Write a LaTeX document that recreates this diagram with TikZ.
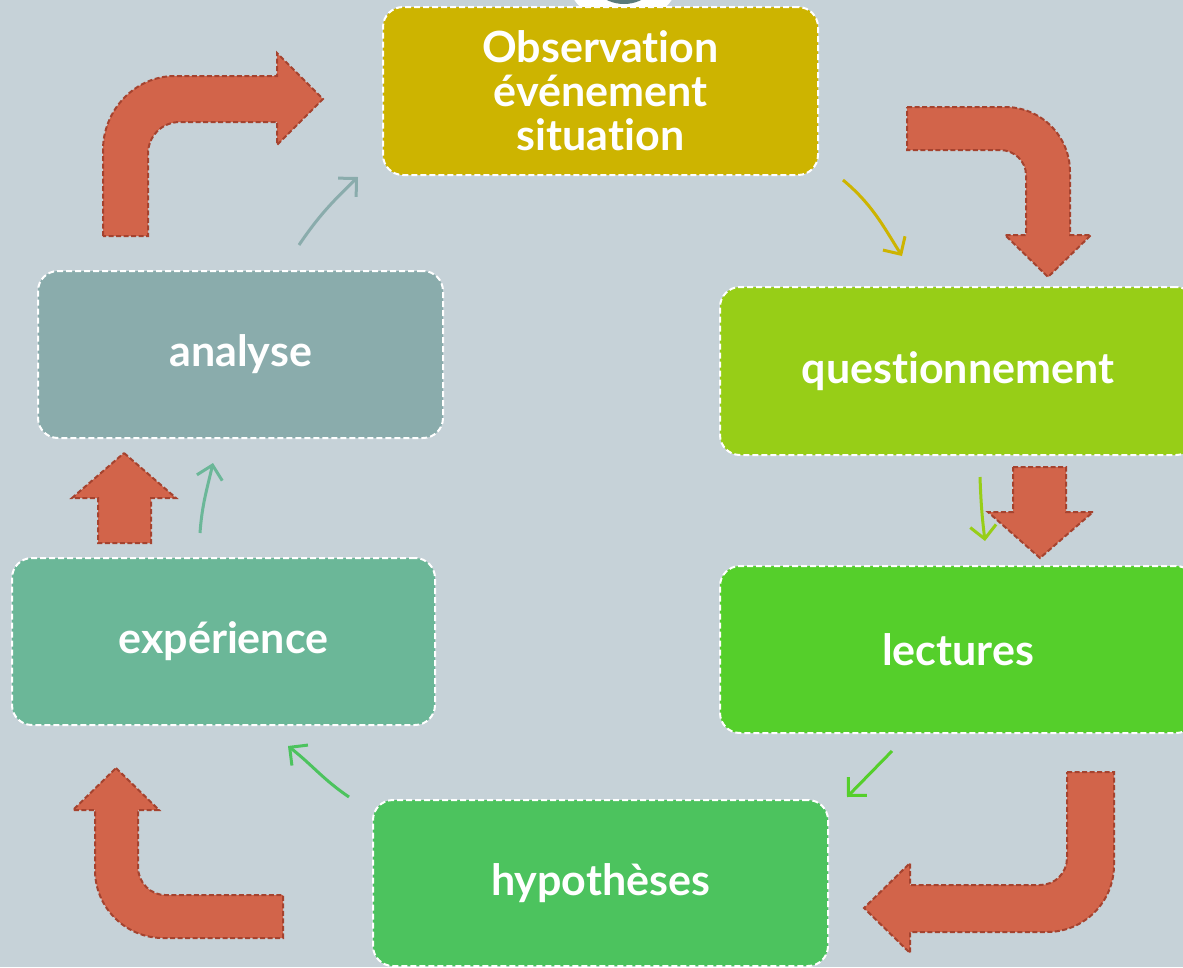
\documentclass[tikz,border=0pt]{standalone}
\usepackage{fontspec}
\setmainfont{Lato}[Ligatures=NoCommon]
\usepackage{tikz}
\usetikzlibrary{arrows.meta}
\definecolor{bg}{HTML}{C6D2D8}
\definecolor{obscol}{HTML}{CDB400}
\definecolor{questcol}{HTML}{97CE17}
\definecolor{lectcol}{HTML}{55CF2B}
\definecolor{hypocol}{HTML}{4CC35E}
\definecolor{expecol}{HTML}{6BB798}
\definecolor{analcol}{HTML}{8AACAC}
\definecolor{bigfill}{HTML}{D2644A}
\definecolor{bigedge}{HTML}{A5432F}
\definecolor{knob}{HTML}{5A7A7A}
\tikzset{
  stagebox/.style={draw=white, line width=2pt, dash pattern=on 6pt off 3pt,
    rounded corners=20pt, inner sep=0pt, text=white, align=center,
    font=\fontsize{43}{44}\selectfont\bfseries},
  bigarrow/.style={fill=bigfill, draw=bigedge, line width=2pt, dash pattern=on 5pt off 2.5pt},
  flow/.style={line width=3pt, -{Straight Barb[length=13pt,width=26pt]}},
}
\begin{document}
\begin{tikzpicture}[x=1pt,y=-1pt]
  \useasboundingbox (0,0) rectangle (1183,967);
  \fill[bg] (0,0) rectangle (1183,967);
  \clip (0,0) rectangle (1183,967);

  % knob at the top
  \fill[white] (623,-35) circle (60);
  \fill[knob] (624,-35) circle (39);

  % stages
  \node[stagebox, fill=obscol, minimum width=435pt, minimum height=168pt] (obs) at (600.5,91) {Observation\\événement\\situation};
  \node[stagebox, fill=questcol, minimum width=476pt, minimum height=168pt] (quest) at (958,371) {questionnement};
  \node[stagebox, fill=lectcol, minimum width=476pt, minimum height=167pt] (lect) at (958,649.5) {lectures};
  \node[stagebox, fill=hypocol, minimum width=455pt, minimum height=166pt] (hypo) at (600.5,883) {hypothèses};
  \node[stagebox, fill=expecol, minimum width=423pt, minimum height=167pt] (expe) at (223.5,641.5) {expérience};
  \node[stagebox, fill=analcol, minimum width=405pt, minimum height=167pt] (anal) at (240.5,354.5) {analyse};

  % big arrows
  \draw[bigarrow] (103,236) -- (103,150) .. controls (103,110) and (135,76) .. (175,76)
    -- (277,76) -- (277,53) -- (323,99) -- (277,145) -- (277,122) -- (180,122)
    .. controls (162,122) and (148,136) .. (148,154) -- (148,236) -- cycle;
  \draw[bigarrow] (907,107) -- (1005,107) .. controls (1041,107) and (1070,136) .. (1070,172)
    -- (1070,235) -- (1091,235) -- (1048,277) -- (1005,235) -- (1026,235) -- (1026,175)
    .. controls (1026,161) and (1014,150) .. (1000,150) -- (907,150) -- cycle;
  \draw[bigarrow] (1013,467) -- (1066,467) -- (1066,512) -- (1093,512) -- (1040,558)
    -- (988,512) -- (1013,512) -- cycle;
  \draw[bigarrow] (1067,772) -- (1114,772) -- (1114,865) .. controls (1114,902) and (1084,932) .. (1047,932)
    -- (910,932) -- (910,953) -- (864,908) -- (910,863) -- (910,885) -- (1040,885)
    .. controls (1055,885) and (1067,873) .. (1067,858) -- cycle;
  \draw[bigarrow] (116,768) -- (159,810) -- (138,810) -- (138,867)
    .. controls (138,883) and (151,895) .. (165,895) -- (283,895) -- (283,938) -- (163,938)
    .. controls (126,938) and (95,908) .. (95,870) -- (95,810) -- (73,810) -- cycle;
  \draw[bigarrow] (124,453) -- (176,498) -- (151,498) -- (151,543) -- (98,543)
    -- (98,498) -- (72,498) -- cycle;

  % thin connectors
  \coordinate (obs-out) at (843,180);
  \coordinate (quest-in) at (902,256);
  \coordinate (quest-out) at (980,477);
  \coordinate (lect-in) at (985,541);
  \coordinate (lect-out) at (892,751);
  \coordinate (hypo-in) at (847,797);
  \coordinate (hypo-out) at (349,797);
  \coordinate (expe-in) at (288,746);
  \coordinate (expe-out) at (200,533);
  \coordinate (anal-in) at (213,463);
  \coordinate (anal-out) at (299,245);
  \coordinate (obs-in) at (358,177);

  \draw[flow, obscol] (obs-out) to[out=-40,in=122] (quest-in);
  \draw[flow, questcol] (quest-out) to[out=-88,in=97] (lect-in);
  \draw[flow, lectcol] (lect-out) -- (hypo-in);
  \draw[flow, hypocol] (hypo-out) to[out=146,in=-38] (expe-in);
  \draw[flow, expecol] (expe-out) to[out=86,in=-103] (anal-in);
  \draw[flow, analcol] (anal-out) to[out=56,in=-136] (obs-in);
\end{tikzpicture}
\end{document}
